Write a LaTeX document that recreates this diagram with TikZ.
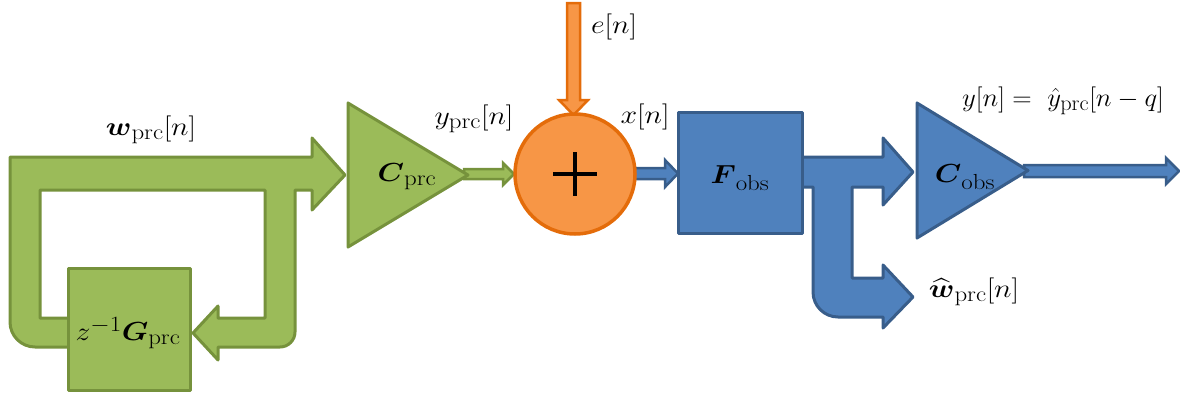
\documentclass[tikz,border=0pt]{standalone}
\usepackage{amsmath}
\usepackage{graphicx}
\usetikzlibrary{calc}
\DeclareMathSizes{24.88}{24.88}{20.74}{17.28}
\definecolor{grfill}{HTML}{9BBB59}
\definecolor{grline}{HTML}{76923C}
\definecolor{orfill}{HTML}{F79646}
\definecolor{orline}{HTML}{E46C0A}
\definecolor{blfill}{HTML}{4F81BD}
\definecolor{blline}{HTML}{385D8A}
\newcommand{\wide}[1]{\scalebox{1.2}[1.05]{$#1$}}
\tikzset{
  x=1pt, y=-1pt,
  gshape/.style={fill=grfill, draw=grline, line width=3pt, line join=round},
  bshape/.style={fill=blfill, draw=blline, line width=3pt, line join=round},
  oshape/.style={fill=orfill, draw=orline, line width=3.5pt, line join=round},
  thinarrow/.style={line width=2.5pt, line join=miter},
  lbl/.style={inner sep=0pt, font=\fontsize{24.88}{28}\selectfont},
}
\begin{document}
\begin{tikzpicture}
\useasboundingbox (0,0) rectangle (1180,394);

% feedback loop band around the delay block
\draw[gshape] (10,157) -- (312,157) -- (312,138) -- (345,175) -- (312,210)
  -- (312,190) -- (295,190) [rounded corners=15pt] -- (295,347) [sharp corners]
  -- (218,347) -- (218,360) -- (193,333) -- (218,306) -- (218,318)
  -- (265,318) -- (265,190) -- (40,190) -- (40,318) -- (80,318) -- (80,347)
  [rounded corners=25pt] -- (10,347) [sharp corners] -- cycle;

% delay block
\node[gshape, rectangle, minimum width=122, minimum height=122] (G) at (129,329) {};
\node[lbl] (Glbl) at (128,333) {\wide{z^{-1}\boldsymbol{G}_{\mathrm{prc}}}};
\node[lbl] (wlbl) at (151,130) {\wide{\boldsymbol{w}_{\mathrm{prc}}[n]}};

% small green arrow from C_prc to the adder
\draw[gshape, thinarrow] (464,169) -- (503,169) -- (503,163) -- (514,174)
  -- (503,185) -- (503,179) -- (464,179) -- cycle;

% process output matrix
\draw[gshape] (348,103) -- (468,175) -- (348,247) -- cycle;
\coordinate (Cp) at (407,177);
\node[lbl] (Cplbl) at (Cp) {\wide{\boldsymbol{C}_{\mathrm{prc}}}};
\node[lbl] (yplbl) at (474,119) {\wide{y_{\mathrm{prc}}[n]}};

% noise input
\draw[oshape, thinarrow] (567,3) -- (580,3) -- (580,100) -- (588,100)
  -- (573.5,115) -- (559,100) -- (567,100) -- cycle;
\node[lbl] (elbl) at (614,27) {\wide{e[n]}};

% small blue arrow from adder to F_obs
\draw[bshape, thinarrow] (630,168) -- (665,168) -- (665,160) -- (678,173.5)
  -- (665,187) -- (665,179) -- (630,179) -- cycle;

% adder
\node[oshape, circle, minimum size=120] (sum) at (575,174) {};
\draw[line width=4pt, line cap=butt] ($(sum.center)+(-22,0)$) -- ($(sum.center)+(22,0)$);
\draw[line width=4pt, line cap=butt] ($(sum.center)+(0,-22)$) -- ($(sum.center)+(0,22)$);
\node[lbl] (xlbl) at (645,117) {\wide{x[n]}};

% observer output band with branch
\draw[bshape] (795,157) -- (883,157) -- (883,138) -- (913,172) -- (883,205)
  -- (883,187) -- (852,187) -- (852,278) -- (883,278) -- (883,265)
  -- (913,297) -- (883,328) -- (883,317) [rounded corners=25pt] -- (813,317)
  [sharp corners] -- (813,187) -- (795,187) -- cycle;

% observer block
\node[bshape, rectangle, minimum width=124, minimum height=121] (F) at (740,172.5) {};
\node[lbl] (Flbl) at (740,178) {\wide{\boldsymbol{F}_{\mathrm{obs}}}};
\node[lbl] (whlbl) at (974,292) {\wide{\widehat{\boldsymbol{w}}_{\mathrm{prc}}[n]}};

% output arrow
\draw[bshape, thinarrow] (1024,165) -- (1166,165) -- (1166,158) -- (1179,171)
  -- (1166,184) -- (1166,177) -- (1024,177) -- cycle;

% observer output matrix
\draw[bshape] (917,103) -- (1028,170.5) -- (917,238) -- cycle;
\node[lbl] (Colbl) at (965,177) {\wide{\boldsymbol{C}_{\mathrm{obs}}}};
\node[lbl] (ylbl) at (1063,101) {\scalebox{1.08}[1.05]{$y[n] =\ \hat{y}_{\mathrm{prc}}[n-q]$}};
\end{tikzpicture}
\end{document}
